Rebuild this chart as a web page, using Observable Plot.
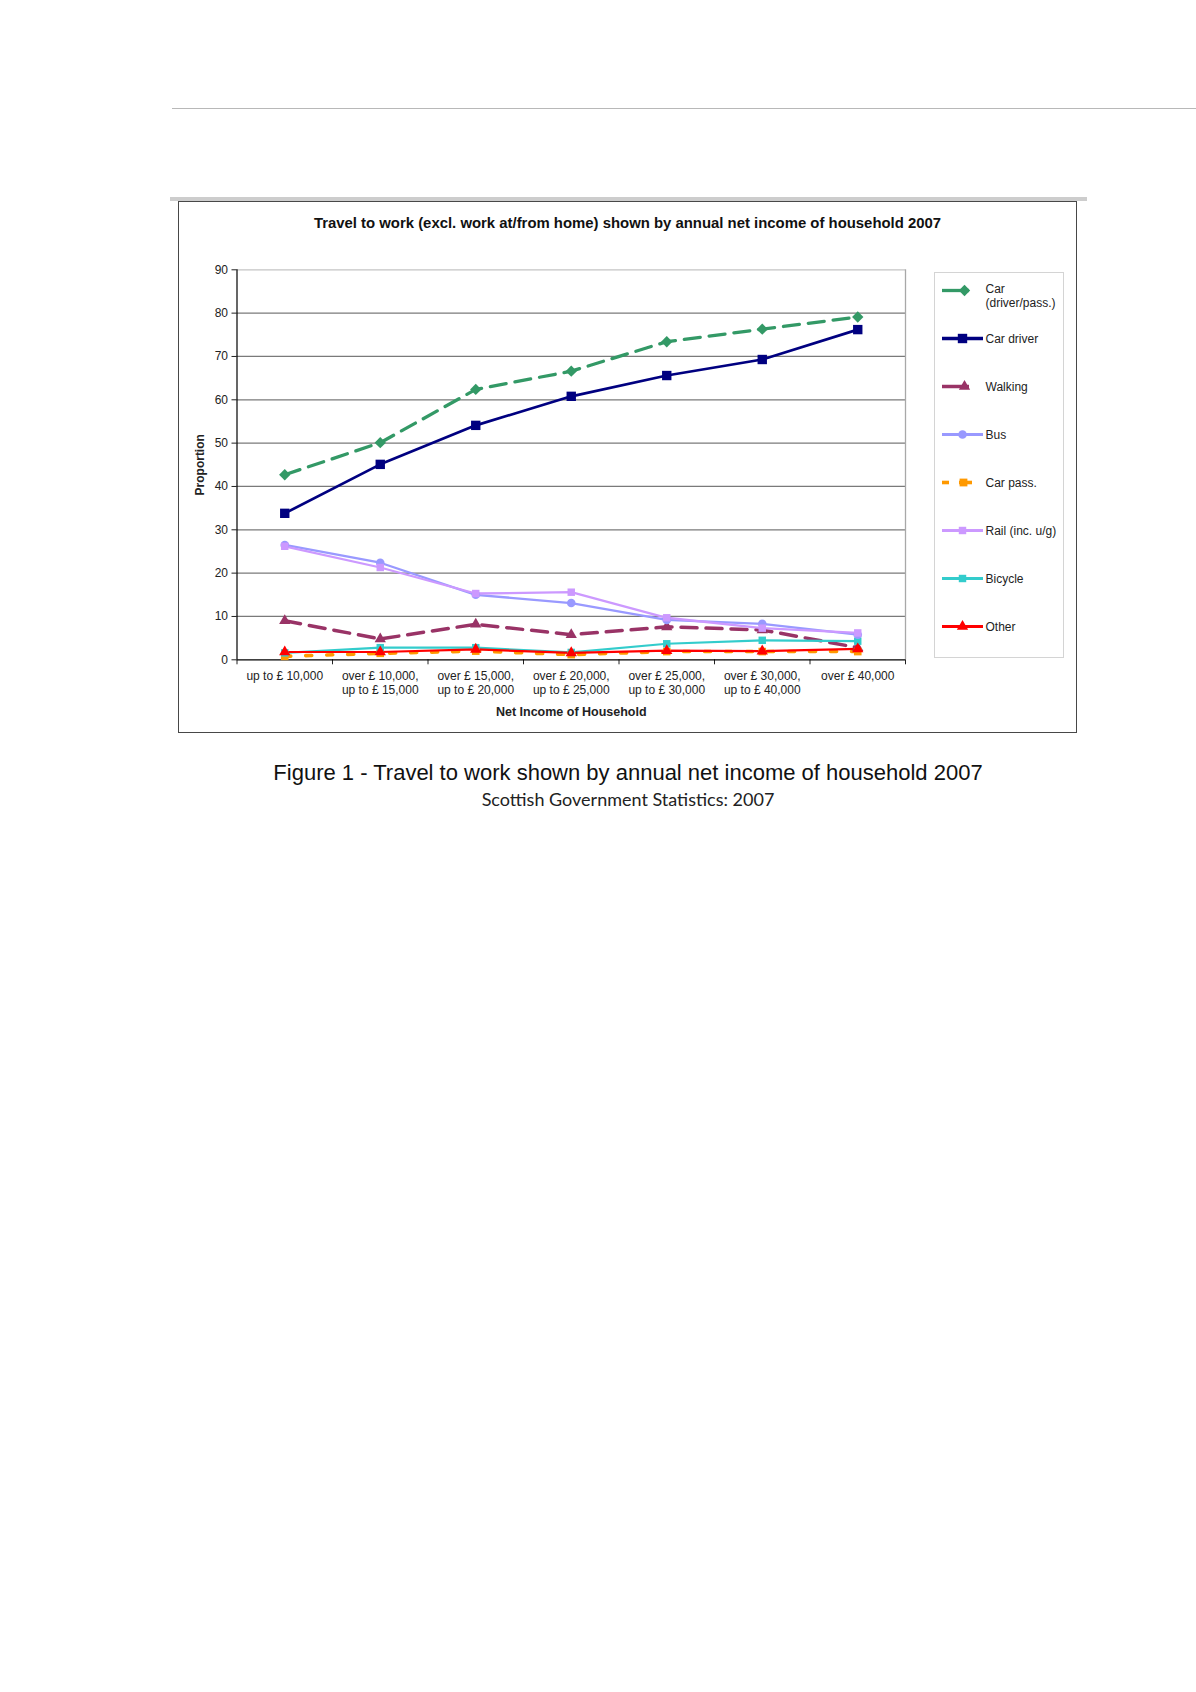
<!DOCTYPE html>
<html><head><meta charset="utf-8">
<script src="https://cdn.jsdelivr.net/npm/d3@7"></script>
<script src="https://cdn.jsdelivr.net/npm/@observablehq/plot@0.6"></script>
<style>
body{margin:0;background:#fff;font-family:"Liberation Sans",Arial,sans-serif;}
#page{position:relative;width:1196px;height:1692px;overflow:hidden;background:#fff;}
#rule{position:absolute;left:172px;top:108px;width:1024px;height:0;border-top:1.5px solid #b8b8b8;}
#bar{position:absolute;left:170px;top:197px;width:917px;height:4px;background:#cdcdcd;}
#frame{position:absolute;left:178px;top:201px;width:899px;height:532px;border:1.5px solid #484848;box-sizing:border-box;}
#chart{position:absolute;left:178px;top:201px;}
#title{position:absolute;left:178px;width:899px;top:215px;text-align:center;font-weight:bold;font-size:14.9px;color:#111;}
#legendbox{position:absolute;left:934px;top:272px;width:130px;height:386px;border:1px solid #d4d4d4;box-sizing:border-box;}
#legend{position:absolute;left:934px;top:272px;}
#cap1{position:absolute;left:0;width:1256px;top:760px;text-align:center;font-size:22px;color:#111;}
#cap2{position:absolute;left:0;width:1256px;top:788px;text-align:center;font-size:18px;color:#222;font-family:Lato,"Open Sans",sans-serif;}
</style></head>
<body><div id="page">
<div id="rule"></div>
<div id="bar"></div>
<div id="frame"></div>
<div id="chart"></div>
<div id="title">Travel to work (excl. work at/from home) shown by annual net income of household 2007</div>
<div id="legendbox"></div>
<div id="legend"></div>
<div id="cap1">Figure 1 - Travel to work shown by annual net income of household 2007</div>
<div id="cap2">Scottish Government Statistics: 2007</div>
</div>
<script>
// ---- data ----
const categories = [
  "up to £ 10,000",
  "over £ 10,000,\nup to £ 15,000",
  "over £ 15,000,\nup to £ 20,000",
  "over £ 20,000,\nup to £ 25,000",
  "over £ 25,000,\nup to £ 30,000",
  "over £ 30,000,\nup to £ 40,000",
  "over £ 40,000"
];
const seriesNames = ["Car\n(driver/pass.)", "Car driver", "Walking", "Bus", "Car pass.", "Rail (inc. u/g)", "Bicycle", "Other"];
const carDriverPass = [42.7, 50.1, 62.4, 66.6, 73.4, 76.3, 79.1];
const carDriver     = [33.8, 45.1, 54.1, 60.8, 65.6, 69.3, 76.2];
const walking       = [9.0, 4.8, 8.2, 5.8, 7.6, 6.9, 2.8];
const bus           = [26.5, 22.4, 15.0, 13.1, 9.2, 8.3, 5.8];
const carPass       = [0.8, 1.5, 2.0, 1.2, 1.9, 1.9, 1.9];
const rail          = [26.2, 21.3, 15.3, 15.6, 9.7, 7.3, 6.2];
const bicycle       = [1.6, 2.8, 2.8, 1.7, 3.7, 4.5, 4.3];
const other         = [1.8, 1.8, 2.4, 1.6, 2.1, 2.0, 2.5];
const yTicks = [0, 10, 20, 30, 40, 50, 60, 70, 80, 90];
const gridValues = [10, 20, 30, 40, 50, 60, 70, 80];
const yLabel = "Proportion";
const xLabel = "Net Income of Household";

// ---- styles ----
const values = [carDriverPass, carDriver, walking, bus, carPass, rail, bicycle, other];
const styles = [
  {color: "#339966", width: 3.3, dash: "16,9", symbol: "diamond2", r: 5.1},
  {color: "#000080", width: 2.7, dash: null, symbol: "square", r: 5.3},
  {color: "#993366", width: 3.5, dash: "16,9", symbol: "triangle", r: 4.2},
  {color: "#9999FF", width: 2.3, dash: null, symbol: "circle", r: 4.3},
  {color: "#FF9900", width: 3.6, dash: "6,15", symbol: "square", r: 4.3},
  {color: "#CC99FF", width: 2.3, dash: null, symbol: "square", r: 4.2},
  {color: "#33CCCC", width: 2.2, dash: null, symbol: "square", r: 4.2},
  {color: "#FF0000", width: 2.2, dash: null, symbol: "triangle", r: 4.2}
];

const table = [];
seriesNames.forEach((s, si) => values[si].forEach((v, i) => table.push({series: s, si, x: i + 0.5, v})));

const W = 899, H = 532;
const drawOrder = [0, 1, 2, 4, 6, 7, 3, 5];
const marks = [
  Plot.ruleY(gridValues, {stroke: "#7a7a7a", strokeWidth: 1.3}),
  Plot.ruleY([90], {stroke: "#c4c4c4", strokeWidth: 1.3}),
  Plot.ruleX([7], {stroke: "#a8a8a8", strokeWidth: 1.3}),
  Plot.axisY({ticks: yTicks, tickSize: 5, tickPadding: 4, label: null, fontSize: 12}),
  Plot.axisX({ticks: d3.range(0, 8), tickSize: 5, tickFormat: () => "", label: null}),
  Plot.axisX({ticks: categories.map((c, i) => i + 0.5), tickSize: 0, tickPadding: 10,
              tickFormat: d => categories[Math.round(d - 0.5)], lineHeight: 1.17, fontSize: 12, label: null}),
  Plot.ruleY([0], {stroke: "#000", strokeWidth: 1.2}),
  Plot.ruleX([0], {stroke: "#000", strokeWidth: 1.2}),
  Plot.text([yLabel], {frameAnchor: "left", textAnchor: "middle", rotate: -90, dx: -37, fontWeight: "bold", fontSize: 12}),
  Plot.text([xLabel], {frameAnchor: "bottom", dy: 52, fontWeight: "bold", fontSize: 12.5, lineAnchor: "middle"})
];
for (const si of drawOrder) {
  const st = styles[si];
  const rows = table.filter(d => d.si === si);
  marks.push(Plot.line(rows, {x: "x", y: "v", stroke: st.color, strokeWidth: st.width,
    strokeDasharray: st.dash || undefined, strokeLinejoin: "round"}));
}
for (const si of drawOrder) {
  const st = styles[si];
  const rows = table.filter(d => d.si === si);
  marks.push(Plot.dot(rows, {x: "x", y: "v", symbol: st.symbol, r: st.r, fill: st.color, stroke: null}));
}

const chart = Plot.plot({
  width: W, height: H,
  marginLeft: 58.5, marginRight: 172, marginTop: 68.3, marginBottom: 73.7,
  x: {domain: [0, 7], axis: null},
  y: {domain: [0, 90], axis: null},
  style: {fontFamily: "'Liberation Sans', Arial, sans-serif", fontSize: "12px", color: "#222", background: "transparent", overflow: "visible"},
  marks
});
document.getElementById("chart").appendChild(chart);

// ---- legend ----
const legendRows = seriesNames.map((s, si) => ({series: s, si}));
const lmarks = [];
legendRows.forEach(row => {
  const st = styles[row.si];
  const isDashed = !!st.dash;
  const r = [row];
  const lw = Math.max(st.width, 2.8);
  if (row.si === 4) {
    lmarks.push(Plot.ruleY(r, {y: "series", x1: 8, x2: 15, stroke: st.color, strokeWidth: 3.6}));
    lmarks.push(Plot.ruleY(r, {y: "series", x1: 25, x2: 38, stroke: st.color, strokeWidth: 3.6}));
    lmarks.push(Plot.dot(r, {y: "series", x: 29, symbol: st.symbol, r: 4.4, fill: st.color, stroke: null}));
  } else {
    lmarks.push(Plot.ruleY(r, {y: "series", x1: 8, x2: isDashed ? 35 : 49, stroke: st.color, strokeWidth: row.si === 1 ? 3.6 : lw}));
    lmarks.push(Plot.dot(r, {y: "series", x: isDashed ? 30 : 28, symbol: st.symbol, r: st.r, fill: st.color, stroke: null}));
  }
});
lmarks.push(Plot.text(legendRows.slice(0, 1), {y: "series", x: 51, text: "series", textAnchor: "start", lineAnchor: "top", dy: -7.5, lineHeight: 1.17, fontSize: 12, fill: "#222"}));
lmarks.push(Plot.text(legendRows.slice(1), {y: "series", x: 51, text: "series", textAnchor: "start", lineAnchor: "top", dy: -5.2, lineHeight: 1.17, fontSize: 12, fill: "#222"}));

const legend = Plot.plot({
  width: 130, height: 386, margin: 0,
  x: {domain: [0, 130], range: [0, 130], axis: null},
  y: {type: "point", domain: seriesNames, range: [16, 355], padding: 0, axis: null},
  style: {fontFamily: "'Liberation Sans', Arial, sans-serif", fontSize: "12px", background: "transparent", overflow: "visible"},
  marks: lmarks
});
document.getElementById("legend").appendChild(legend);
</script>
</body></html>
